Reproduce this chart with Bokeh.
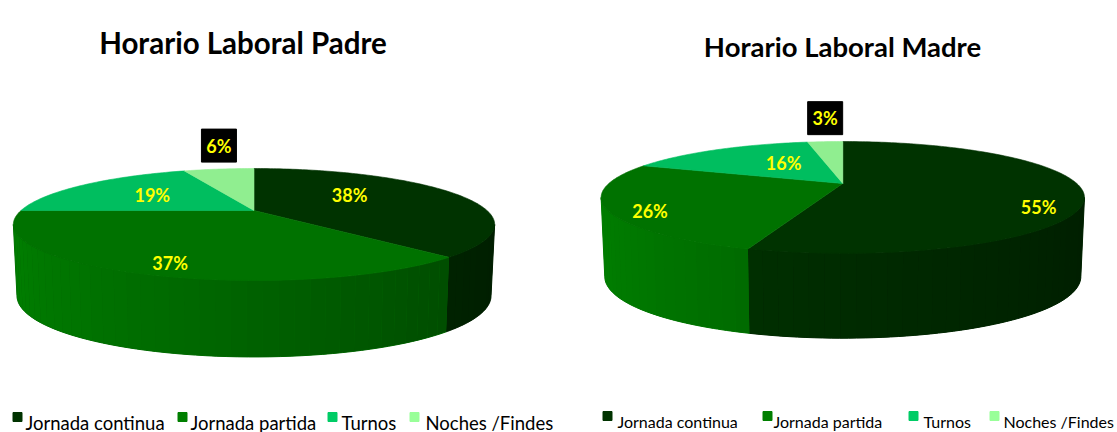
import numpy as np
from bokeh.plotting import figure
from bokeh.models import Range1d
from bokeh.embed import file_html
from bokeh.resources import INLINE
from bokeh.core.properties import value

# ---------------- data ----------------
categories = ["Jornada continua", "Jornada partida", "Turnos", "Noches /Findes"]
padre = [38, 37, 19, 6]
madre = [55, 26, 16, 3]
titles = ["Horario Laboral Padre", "Horario Laboral Madre"]

# ---------------- styles / layout ----------------
top_colors = ["#003300", "#007200", "#00BE5F", "#90EE90"]
legend_colors = ["#003300", "#007F00", "#00CC66", "#99FF99"]
TITLE_FONT = "Lato"
LABEL_FONT = "Lato"
LEGEND_FONT = "Lato"

W, H = 1117, 432
p = figure(width=W, height=H, x_range=Range1d(0, W), y_range=Range1d(H, 0),
           output_backend="svg", toolbar_location=None, min_border=0)
p.axis.visible = False
p.grid.visible = False
p.outline_line_color = None
p.background_fill_color = "white"
p.border_fill_color = "white"

pies = [
    dict(vals=padre, title=titles[0], cx=253.5, cy=210.0, R=233.0, Ry=52.5, k=0.25, D=69.5,
         title_xy=(242.5, 42), title_size=29.5,
         lab_r=[0.46, 0.75, 0.57, 1.0], lab_dy=[-7, 9, 0, -23.5],
         leg_sq=[17, 182, 332, 414], leg_tx=[25, 190, 341, 425], leg_y=422, leg_size=18.5),
    dict(vals=madre, title=titles[1], cx=842.3, cy=183.0, R=234.0, Ry=52.5, k=0.25, D=77.0,
         title_xy=(842, 46), title_size=27.5,
         lab_r=[0.82, 0.83, 0.43, 1.0], lab_dy=[17, 7, -4, -23.5],
         leg_sq=[607, 767, 913, 994], leg_tx=[617, 773, 923, 1003], leg_y=421, leg_size=16),
]


def hex_to_rgb(h):
    h = h.lstrip("#")
    return np.array([int(h[i:i + 2], 16) for i in (0, 2, 4)], dtype=float)


def shade(h, f):
    c = np.clip(hex_to_rgb(h) * f, 0, 255).astype(int)
    return "#%02x%02x%02x" % tuple(c)


for pie in pies:
    cx, cy, R, Ry, k, D = pie["cx"], pie["cy"], pie["R"], pie["Ry"], pie["k"], pie["D"]

    def proj(theta_deg, r=1.0):
        t = np.radians(theta_deg)
        u = r * np.sin(t)
        v = -r * np.cos(t)
        w = 1.0 / (1.0 - k * v)
        return cx + R * u * w, cy + Ry * v * w

    def proj_bottom(theta_deg):
        t = np.radians(theta_deg)
        v = -np.cos(t)
        x, y = proj(theta_deg)
        return cx + (x - cx) * 0.985, y + D * (1 + 0.1 * v)

    vals = np.array(pie["vals"], dtype=float)
    fr = vals / vals.sum()
    ends = np.cumsum(fr) * 360.0
    starts = ends - fr * 360.0

    # visible front wall range
    th_r = np.degrees(np.arccos(-k))
    th_l = 360.0 - th_r

    bx, by, bc = [], [], []
    wx, wy, wc = [], [], []
    for i, (a0, a1) in enumerate(zip(starts, ends)):
        b0, b1 = max(a0, th_r), min(a1, th_l)
        if b1 <= b0:
            continue
        th = np.linspace(b0, b1, 60)
        tx_, ty_ = proj(th)
        bx_, by_ = proj_bottom(th[::-1])
        bx.append(list(tx_) + list(bx_))
        by.append(list(ty_) + list(by_))
        um = np.sin(np.radians((b0 + b1) / 2))
        bc.append(shade(top_colors[i], 0.86 - 0.26 * um))
        n = max(1, int(np.ceil((b1 - b0) / 3.0)))
        edges = np.linspace(b0, b1, n + 1)
        for e0, e1 in zip(edges[:-1], edges[1:]):
            x0, y0 = proj(e0)
            x1, y1 = proj(e1)
            bx1, by1 = proj_bottom(e1)
            bx0, by0 = proj_bottom(e0)
            wx.append([x0, x1, bx1, bx0])
            wy.append([y0, y1, by1, by0])
            um = np.sin(np.radians((e0 + e1) / 2))
            wc.append(shade(top_colors[i], 0.86 - 0.26 * um))
    p.patches(bx, by, fill_color=bc, line_color=bc, line_width=1)
    p.patches(wx, wy, fill_color=wc, line_color=None)

    # top surface
    tx, ty, tc = [], [], []
    for i, (a0, a1) in enumerate(zip(starts, ends)):
        n = max(2, int(np.ceil((a1 - a0) / 1.0)))
        th = np.linspace(a0, a1, n + 1)
        xs, ys = proj(th)
        tx.append([cx] + list(xs))
        ty.append([cy] + list(ys))
        tc.append(top_colors[i])
    p.patches(tx, ty, fill_color=tc, line_color=tc, line_width=0.6)

    # data labels
    in_x, in_y, in_t, out_x, out_y, out_t = [], [], [], [], [], []
    for i, (a0, a1) in enumerate(zip(starts, ends)):
        mid = (a0 + a1) / 2
        lx, ly = proj(mid, pie["lab_r"][i])
        ly += pie["lab_dy"][i]
        txt = "%d%%" % pie["vals"][i]
        if pie["vals"][i] < 10:
            out_x.append(lx); out_y.append(ly); out_t.append(txt)
        else:
            in_x.append(lx); in_y.append(ly); in_t.append(txt)
    p.text(in_x, in_y, text=in_t, text_color="#FFFF00", text_font=value(LABEL_FONT),
           text_font_style="bold", text_font_size="18px", text_align="center", text_baseline="middle")
    p.rect(out_x, out_y, width=35, height=33, width_units="screen", height_units="screen",
           fill_color="black", line_color="black")
    p.text(out_x, out_y, text=out_t, text_color="#FFFF00", text_font=value(LABEL_FONT),
           text_font_style="bold", text_font_size="18px", text_align="center", text_baseline="middle")

    # title
    p.text([pie["title_xy"][0]], [pie["title_xy"][1]], text=[pie["title"]], text_color="black",
           text_font=value(TITLE_FONT), text_font_style="bold",
           text_font_size="%spx" % pie["title_size"], text_align="center", text_baseline="alphabetic")

    # legend
    ly = pie["leg_y"]
    p.scatter(pie["leg_sq"], [ly - 5.5] * 4, marker="square", size=9,
              fill_color=legend_colors, line_color=legend_colors)
    p.text(pie["leg_tx"], [ly] * 4, text=categories, text_color="black",
           text_font=value(LEGEND_FONT), text_font_size="%spx" % pie["leg_size"],
           text_align="left", text_baseline="alphabetic")

open("out.html", "w").write(file_html(p, INLINE))
